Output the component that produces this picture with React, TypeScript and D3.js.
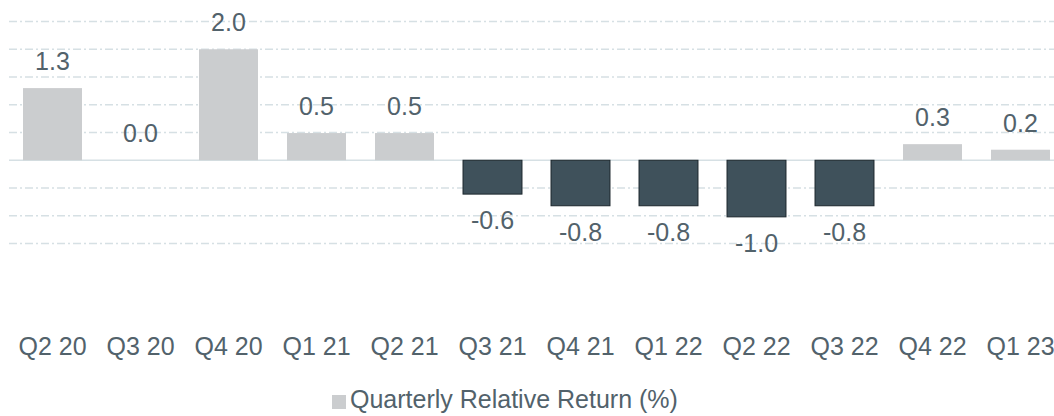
import React from "react";
import * as d3 from "d3";

const categories = ["Q2 20", "Q3 20", "Q4 20", "Q1 21", "Q2 21", "Q3 21", "Q4 21", "Q1 22", "Q2 22", "Q3 22", "Q4 22", "Q1 23"];
const values = [1.3, 0.0, 2.0, 0.49, 0.49, -0.61, -0.82, -0.82, -1.02, -0.82, 0.29, 0.19];
const gridTicks = [-1.5, -1.0, -0.5, 0.5, 1.0, 1.5, 2.0, 2.5];
const legendLabel = "Quarterly Relative Return (%)";

const W = 1054;
const H = 416;
const FONT = "'Liberation Sans', Arial, Helvetica, sans-serif";
const TEXT = "#52626b";
const POS = "#cbcdcf";
const NEG = "#3f515b";
const GRID = "#d6e0e4";

export default function App() {
  const x = d3.scaleBand<string>().domain(categories).range([8.5, 1064.5]).paddingInner(0.33).paddingOuter(0.165);
  const y = d3.scaleLinear().domain([-1.5, 2.5]).range([243.5, 21.5]);
  const y0 = y(0);
  const fs = 25;

  return (
    <svg width={W} height={H} style={{ position: "absolute", left: 0, top: 0, background: "#fff" }} fontFamily={FONT}>
      {gridTicks.map((t) => (
        <line key={t} x1={9} x2={W} y1={y(t)} y2={y(t)} stroke={GRID} strokeWidth={1.5} strokeDasharray="8,3,2,3" />
      ))}
      <line x1={9} x2={W} y1={y0} y2={y0} stroke={GRID} strokeWidth={1.5} />
      {categories.map((c, i) => {
        const v = values[i];
        const bx = x(c) as number;
        const bw = x.bandwidth();
        const top = Math.min(y(v), y0);
        const h = Math.abs(y(v) - y0);
        const neg = v < 0;
        const cx = bx + bw / 2;
        return (
          <g key={c}>
            {h > 0 && (
              <rect
                x={bx}
                y={top}
                width={bw}
                height={h}
                fill={neg ? NEG : POS}
                stroke={neg ? "#1c272d" : "none"}
                strokeWidth={neg ? 1 : 0}
              />
            )}
            <text
              x={cx}
              y={neg ? y(v) + 35 : y(v) - 18}
              textAnchor="middle"
              fontSize={fs}
              fill={TEXT}
            >
              {v.toFixed(1)}
            </text>
            <text x={cx} y={355} textAnchor="middle" fontSize={fs} fill={TEXT}>
              {c}
            </text>
          </g>
        );
      })}
      <rect x={332} y={395} width={14} height={14} fill={POS} />
      <text x={350} y={408} fontSize={fs} fill={TEXT}>
        {legendLabel}
      </text>
    </svg>
  );
}
